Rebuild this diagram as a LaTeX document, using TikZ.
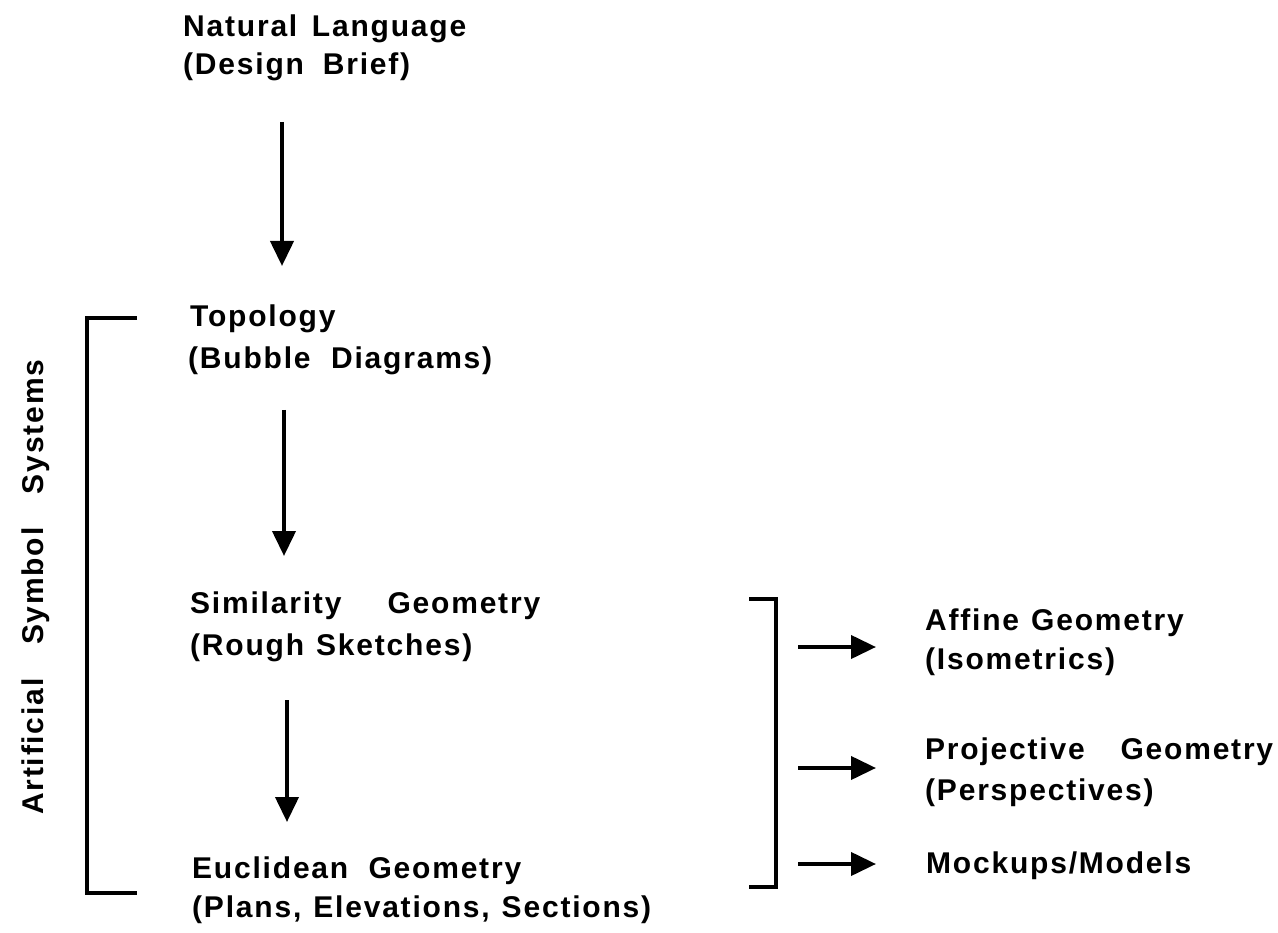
\documentclass[tikz,border=0pt]{standalone}
\usepackage{fontspec}
\newfontfamily\lblfont[LetterSpace=6]{Liberation Sans}
\usetikzlibrary{arrows.meta}
\newcommand\wg{\hskip 12pt plus 1fill\relax}
\tikzset{
  lbl/.style={anchor=base west, inner sep=0pt, font=\lblfont\bfseries\fontsize{30}{36}\selectfont},
  conn/.style={line width=4pt, -{Triangle[length=25pt,width=23pt]}},
  brk/.style={line width=3.5pt, line cap=butt, line join=miter},
}
\begin{document}
\begin{tikzpicture}[x=1pt,y=-1pt]
\useasboundingbox[fill=white] (0,0) rectangle (1278,933);
% left column labels
\node[lbl] (nl1) at (183,37)  {\hbox to 283pt{Natural\wg Language}};
\node[lbl] (nl2) at (183,75)  {\hbox to 227pt{(Design\wg Brief)}};
\node[lbl] (tp1) at (190,327) {Topology};
\node[lbl] (tp2) at (188,369) {\hbox to 304pt{(Bubble\wg Diagrams)}};
\node[lbl] (sg1) at (190,613) {\hbox to 350pt{Similarity\wg Geometry}};
\node[lbl] (sg2) at (190,655) {\hbox to 264pt{(Rough\wg Sketches)}};
\node[lbl] (eg1) at (192,878) {\hbox to 329pt{Euclidean\wg Geometry}};
\node[lbl] (eg2) at (192,917) {\hbox to 433pt{(Plans,\wg Elevations,\wg Sections)}};
% right column labels
\node[lbl] (ag1) at (925,630) {\hbox to 250pt{Affine\wg Geometry}};
\node[lbl] (ag2) at (925,669) {(Isometrics)};
\node[lbl] (pg1) at (925,759) {\hbox to 348pt{Projective\wg Geometry}};
\node[lbl] (pg2) at (925,800) {(Perspectives)};
\node[lbl] (mm)  at (926,873) {Mockups/Models};
% side label
\node[lbl, rotate=90] (ass) at (43,815) {\hbox to 455pt{Artificial\wg Symbol\wg Systems}};
% vertical arrows
\coordinate (a1s) at (282,122); \coordinate (a1e) at (282,266);
\coordinate (a2s) at (284,410); \coordinate (a2e) at (284,556);
\coordinate (a3s) at (287,700); \coordinate (a3e) at (287,822);
\draw[conn] (a1s) -- (a1e);
\draw[conn] (a2s) -- (a2e);
\draw[conn] (a3s) -- (a3e);
% left bracket
\coordinate (lb1) at (137,318); \coordinate (lb2) at (87,318);
\coordinate (lb3) at (87,893);  \coordinate (lb4) at (137,893);
\draw[brk] (lb1) -- (lb2) -- (lb3) -- (lb4);
% right bracket
\coordinate (rb1) at (749,599); \coordinate (rb2) at (776,599);
\coordinate (rb3) at (776,887); \coordinate (rb4) at (749,887);
\draw[brk] (rb1) -- (rb2) -- (rb3) -- (rb4);
% horizontal arrows
\coordinate (h1s) at (798,647); \coordinate (h1e) at (876,647);
\coordinate (h2s) at (798,768); \coordinate (h2e) at (876,768);
\coordinate (h3s) at (798,864); \coordinate (h3e) at (876,864);
\draw[conn] (h1s) -- (h1e);
\draw[conn] (h2s) -- (h2e);
\draw[conn] (h3s) -- (h3e);
\end{tikzpicture}
\end{document}
